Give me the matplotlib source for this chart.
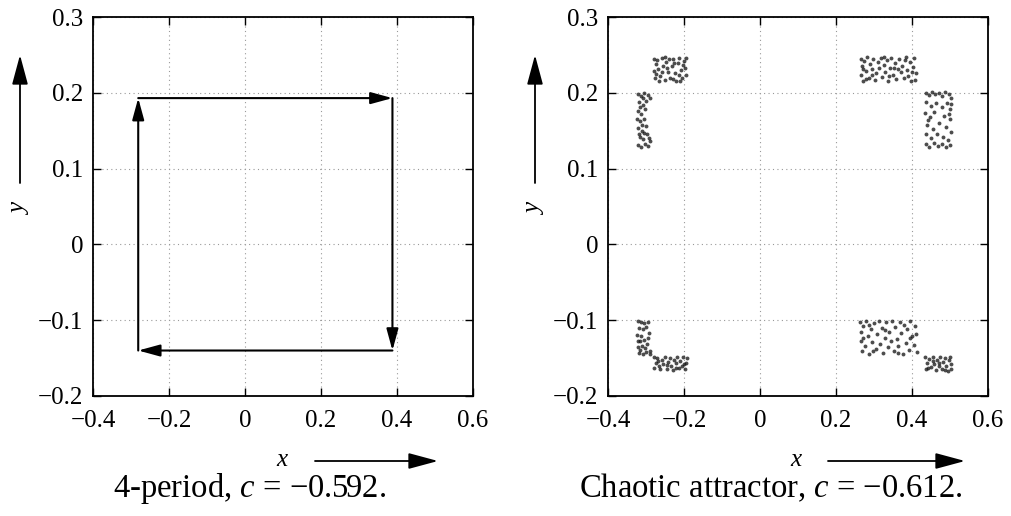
import matplotlib
matplotlib.use("Agg")
import matplotlib.pyplot as plt
from matplotlib.patches import FancyArrowPatch

plt.rcParams['font.family'] = ['Liberation Serif', 'DejaVu Serif']
plt.rcParams['mathtext.fontset'] = 'custom'
plt.rcParams['mathtext.rm'] = 'Liberation Serif'
plt.rcParams['mathtext.it'] = 'Liberation Serif:italic'

# ---- data ----
x_ticks = [-0.4, -0.2, 0, 0.2, 0.4, 0.6]
x_ticklabels = ["\u22120.4", "\u22120.2", "0", "0.2", "0.4", "0.6"]
y_ticks = [-0.2, -0.1, 0, 0.1, 0.2, 0.3]
y_ticklabels = ["\u22120.2", "\u22120.1", "0", "0.1", "0.2", "0.3"]

cycle_x = [-0.281, -0.281, 0.388, 0.388, -0.281]
cycle_y = [-0.140, 0.193, 0.193, -0.140, -0.140]

caption_left = "4-period, $c$ = \u22120.592."
caption_right = "Chaotic attractor, $c$ = \u22120.612."

cluster_a = [(-0.279,0.245),(-0.275,0.238),(-0.280,0.229),(-0.277,0.219),(-0.271,0.243),(-0.268,0.231),(-0.263,0.222),(-0.259,0.246),(-0.255,0.236),(-0.251,0.217),(-0.247,0.241),(-0.243,0.228),(-0.239,0.245),(-0.236,0.220),(-0.232,0.235),(-0.228,0.244),(-0.224,0.226),(-0.220,0.215),(-0.216,0.239),(-0.212,0.246),(-0.208,0.230),(-0.204,0.219),(-0.200,0.242),(-0.197,0.233),(-0.194,0.224),(-0.195,0.246),(-0.266,0.215),(-0.258,0.227),(-0.245,0.233),(-0.230,0.218),(-0.214,0.223),(-0.202,0.237),(-0.273,0.225),(-0.249,0.247),(-0.226,0.239),(-0.210,0.216)]
cluster_b = [(-0.321,0.199),(-0.314,0.196),(-0.305,0.200),(-0.296,0.197),(-0.290,0.193),(-0.318,0.188),(-0.308,0.184),(-0.299,0.189),(-0.322,0.176),(-0.312,0.172),(-0.302,0.178),(-0.316,0.163),(-0.306,0.166),(-0.320,0.153),(-0.310,0.150),(-0.300,0.156),(-0.317,0.142),(-0.307,0.139),(-0.321,0.131),(-0.313,0.129),(-0.303,0.133),(-0.294,0.130),(-0.289,0.137),(-0.297,0.145),(-0.319,0.145),(-0.311,0.158),(-0.315,0.181),(-0.309,0.193),(-0.323,0.165),(-0.304,0.147),(-0.292,0.141)]
cluster_c = [(0.265,0.245),(0.268,0.236),(0.266,0.224),(0.270,0.216),(0.274,0.242),(0.278,0.229),(0.282,0.247),(0.286,0.220),(0.290,0.238),(0.294,0.231),(0.298,0.244),(0.302,0.217),(0.306,0.226),(0.310,0.240),(0.314,0.233),(0.318,0.246),(0.322,0.221),(0.326,0.237),(0.330,0.228),(0.334,0.243),(0.338,0.215),(0.342,0.233),(0.346,0.246),(0.350,0.224),(0.354,0.239),(0.358,0.218),(0.362,0.231),(0.366,0.245),(0.370,0.227),(0.374,0.236),(0.378,0.219),(0.382,0.243),(0.386,0.230),(0.390,0.222),(0.394,0.240),(0.398,0.215),(0.402,0.234),(0.406,0.246),(0.410,0.226),(0.408,0.217),(0.271,0.231),(0.296,0.223),(0.327,0.247),(0.352,0.233),(0.385,0.247),(0.400,0.228),(0.280,0.218),(0.340,0.222)]
cluster_d = [(0.436,0.200),(0.444,0.197),(0.452,0.201),(0.461,0.198),(0.470,0.200),(0.479,0.196),(0.488,0.201),(0.497,0.199),(0.502,0.193),(0.438,0.188),(0.449,0.183),(0.463,0.186),(0.478,0.181),(0.492,0.187),(0.501,0.178),(0.435,0.173),(0.447,0.168),(0.458,0.175),(0.485,0.170),(0.499,0.165),(0.440,0.158),(0.455,0.152),(0.472,0.160),(0.490,0.155),(0.502,0.148),(0.437,0.145),(0.450,0.140),(0.466,0.146),(0.481,0.142),(0.495,0.138),(0.436,0.132),(0.445,0.129),(0.457,0.134),(0.468,0.130),(0.479,0.133),(0.489,0.129),(0.500,0.131),(0.503,0.185),(0.497,0.172),(0.441,0.164)]
cluster_e = [(-0.322,-0.101),(-0.314,-0.102),(-0.305,-0.104),(-0.296,-0.103),(-0.319,-0.110),(-0.309,-0.112),(-0.300,-0.109),(-0.323,-0.119),(-0.313,-0.121),(-0.291,-0.117),(-0.317,-0.128),(-0.306,-0.126),(-0.321,-0.136),(-0.311,-0.134),(-0.298,-0.131),(-0.289,-0.140),(-0.319,-0.143),(-0.309,-0.144),(-0.299,-0.142),(-0.290,-0.145),(-0.315,-0.139),(-0.303,-0.137),(-0.322,-0.127),(-0.294,-0.124)]
cluster_f = [(-0.280,-0.149),(-0.274,-0.156),(-0.278,-0.163),(-0.270,-0.150),(-0.266,-0.160),(-0.262,-0.165),(-0.258,-0.153),(-0.254,-0.158),(-0.250,-0.148),(-0.246,-0.164),(-0.242,-0.155),(-0.238,-0.150),(-0.234,-0.161),(-0.230,-0.166),(-0.226,-0.152),(-0.222,-0.157),(-0.218,-0.149),(-0.214,-0.163),(-0.210,-0.154),(-0.206,-0.160),(-0.202,-0.148),(-0.198,-0.165),(-0.194,-0.156),(-0.192,-0.150),(-0.268,-0.154),(-0.244,-0.159),(-0.220,-0.163),(-0.200,-0.158)]
cluster_g = [(0.264,-0.102),(0.267,-0.115),(0.265,-0.128),(0.268,-0.141),(0.272,-0.108),(0.276,-0.134),(0.280,-0.101),(0.284,-0.121),(0.288,-0.144),(0.292,-0.112),(0.296,-0.129),(0.300,-0.104),(0.304,-0.138),(0.308,-0.118),(0.312,-0.101),(0.316,-0.132),(0.320,-0.110),(0.324,-0.143),(0.328,-0.123),(0.332,-0.103),(0.336,-0.136),(0.340,-0.115),(0.344,-0.127),(0.348,-0.101),(0.352,-0.141),(0.356,-0.109),(0.360,-0.125),(0.364,-0.134),(0.368,-0.102),(0.372,-0.117),(0.376,-0.144),(0.380,-0.106),(0.384,-0.130),(0.388,-0.112),(0.392,-0.139),(0.396,-0.101),(0.400,-0.121),(0.404,-0.133),(0.408,-0.108),(0.412,-0.142),(0.410,-0.118),(0.270,-0.124),(0.298,-0.140),(0.330,-0.113),(0.362,-0.143),(0.394,-0.124),(0.286,-0.106)]
cluster_h = [(0.435,-0.149),(0.440,-0.157),(0.437,-0.165),(0.445,-0.151),(0.449,-0.162),(0.454,-0.148),(0.458,-0.158),(0.462,-0.166),(0.466,-0.153),(0.470,-0.160),(0.474,-0.149),(0.478,-0.164),(0.482,-0.155),(0.486,-0.150),(0.490,-0.161),(0.494,-0.167),(0.498,-0.152),(0.502,-0.158),(0.503,-0.165),(0.443,-0.163),(0.456,-0.154),(0.472,-0.156),(0.488,-0.166),(0.500,-0.149)]
clusters = [cluster_a, cluster_b, cluster_c, cluster_d, cluster_e, cluster_f, cluster_g, cluster_h]

# ---- figure ----
W, H = 1011, 516
fig = plt.figure(figsize=(W / 100, H / 100), dpi=100)

def px_axes(left, top, right, bottom):
    return fig.add_axes([left / W, 1 - bottom / H, (right - left) / W, (bottom - top) / H])

ax1 = px_axes(93, 17, 473, 396)
ax2 = px_axes(608, 17, 988, 396)

for ax in (ax1, ax2):
    ax.set_xlim(-0.4, 0.6)
    ax.set_ylim(-0.2, 0.3)
    ax.set_xticks(x_ticks)
    ax.set_xticklabels(x_ticklabels)
    ax.set_yticks(y_ticks)
    ax.set_yticklabels(y_ticklabels)
    ax.tick_params(direction='in', top=True, right=True, length=6, width=1.0,
                   labelsize=18, colors='black')
    ax.tick_params(axis='x', pad=10)
    ax.tick_params(axis='y', pad=7)
    ax.grid(True, linestyle=(0, (1, 3)), color='#999999', linewidth=0.8)
    ax.set_axisbelow(True)
    for s in ax.spines.values():
        s.set_linewidth(1.3)

# Left: 4-period cycle
for i in range(len(cycle_x) - 1):
    ax1.annotate("", xy=(cycle_x[i + 1], cycle_y[i + 1]), xytext=(cycle_x[i], cycle_y[i]),
                 xycoords='data', textcoords='data',
                 arrowprops=dict(arrowstyle='-|>,head_length=1.1,head_width=0.3',
                                 color='black', lw=1.5, shrinkA=0, shrinkB=0,
                                 mutation_scale=12))

# Right: chaotic attractor
for cl in clusters:
    xs = [p[0] for p in cl]
    ys = [p[1] for p in cl]
    ax2.plot(xs, ys, linestyle='none', marker='o', markersize=2.8,
             markeredgewidth=0, color='#111111', alpha=0.75)

# Figure-level axis arrows and labels
def fig_arrow(x0, y0, x1, y1):
    a = FancyArrowPatch((x0 / W, 1 - y0 / H), (x1 / W, 1 - y1 / H),
                        transform=fig.transFigure,
                        arrowstyle='-|>,head_length=1.3,head_width=0.35',
                        mutation_scale=14, color='black', lw=1.3,
                        shrinkA=0, shrinkB=0)
    fig.add_artist(a)

for (yx, xlab_x, arr_x0, arr_x1) in [(20, 283, 315, 438), (535, 797, 828, 965)]:
    fig_arrow(yx, 183, yx, 55)
    fig.text(yx / W, 1 - 207 / H, "$y$", rotation=90, ha='center', va='center', fontsize=18)
    fig.text(xlab_x / W, 1 - 460 / H, "$x$", ha='center', va='center', fontsize=18)
    fig_arrow(arr_x0, 461, arr_x1, 461)

fig.text(250 / W, 1 - 497 / H, caption_left, ha='center', va='baseline', fontsize=23.5)
fig.text(771 / W, 1 - 497 / H, caption_right, ha='center', va='baseline', fontsize=23.5)

fig.savefig("out.png", dpi=100)
